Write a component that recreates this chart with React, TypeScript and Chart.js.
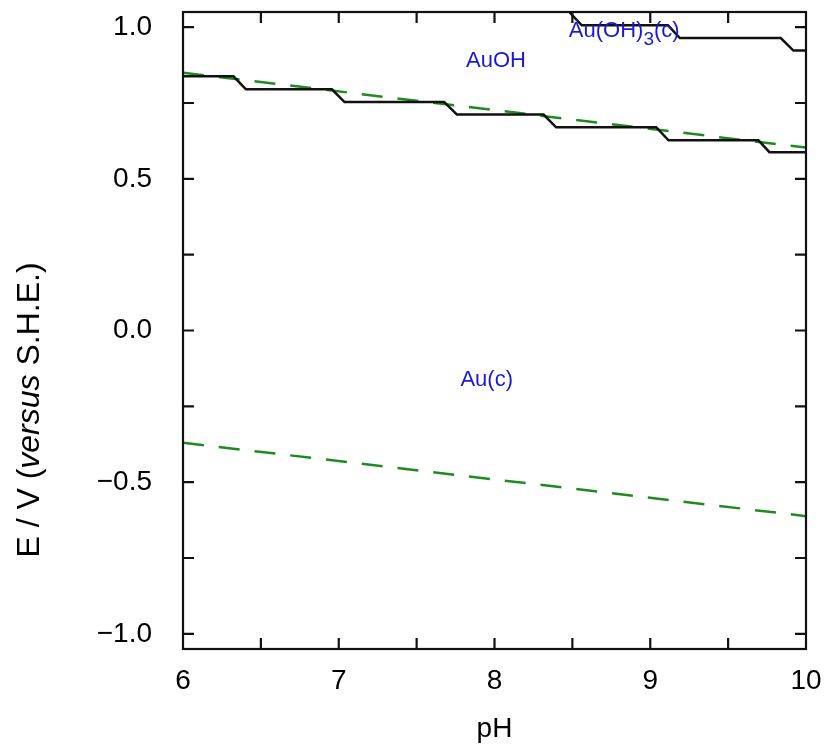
import React, { useEffect, useRef } from 'react';
import { Chart, registerables } from 'chart.js';

Chart.register(...registerables);

// ---- data ----
const phMin = 6;
const phMax = 10;
const eMin = -1.05;
const eMax = 1.05;

const xTickValues = [6, 7, 8, 9, 10];
const xMinorTickValues = [6.5, 7, 7.5, 8, 8.5, 9, 9.5];
const yTickValues = [-1.0, -0.5, 0.0, 0.5, 1.0];
const yMinorTickValues = [-1.0, -0.75, -0.5, -0.25, 0, 0.25, 0.5, 0.75, 1.0];

// Au(c) / AuOH boundary (staircase)
const auAuohPH = [6, 6.324, 6.404, 6.956, 7.037, 7.677, 7.759, 8.315, 8.396, 9.038, 9.117, 9.695, 9.765, 10];
const auAuohE = [0.838, 0.838, 0.795, 0.795, 0.753, 0.753, 0.712, 0.712, 0.670, 0.670, 0.627, 0.627, 0.588, 0.588];

// AuOH / Au(OH)3(c) boundary (staircase)
const auohAuoh3PH = [8.48, 8.56, 9.114, 9.19, 9.838, 9.919, 10];
const auohAuoh3E = [1.05, 1.006, 1.006, 0.964, 0.964, 0.923, 0.923];

// water stability lines
const o2LinePH = [6, 10];
const o2LineE = [0.85, 0.603];
const h2LinePH = [6, 10];
const h2LineE = [-0.37, -0.612];

// region labels (data coordinates)
const regionLabels = ['AuOH', 'Au(c)'];
const regionLabelPH = [8.01, 7.95];
const regionLabelE = [0.89, -0.163];
const auoh3LabelPH = 8.833;
const auoh3LabelE = 0.967;

const FONT = '"Liberation Sans", Arial, Helvetica, sans-serif';
const BLUE = '#1a1ad2';
const GREEN = '#1f8a1f';

function pts(xs: number[], ys: number[]) {
  return xs.map((x, i) => ({ x, y: ys[i] }));
}

const decorPlugin = {
  id: 'decor',
  afterDatasetsDraw(chart: any) {
    const ctx = chart.ctx as CanvasRenderingContext2D;
    const { left, right, top, bottom } = chart.chartArea;
    const xs = chart.scales.x;
    const ys = chart.scales.y;
    ctx.save();
    // frame
    ctx.strokeStyle = '#111';
    ctx.lineWidth = 2.2;
    ctx.strokeRect(left, top, right - left, bottom - top);
    // inward ticks
    const tl = 11;
    ctx.beginPath();
    xMinorTickValues.forEach((v) => {
      const px = xs.getPixelForValue(v);
      ctx.moveTo(px, bottom);
      ctx.lineTo(px, bottom - tl);
      ctx.moveTo(px, top);
      ctx.lineTo(px, top + tl);
    });
    yMinorTickValues.forEach((v) => {
      const py = ys.getPixelForValue(v);
      ctx.moveTo(left, py);
      ctx.lineTo(left + tl, py);
      ctx.moveTo(right, py);
      ctx.lineTo(right - tl, py);
    });
    ctx.stroke();

    // region labels
    ctx.fillStyle = BLUE;
    ctx.textAlign = 'center';
    ctx.textBaseline = 'middle';
    ctx.font = `22px ${FONT}`;
    regionLabels.forEach((t, i) => {
      ctx.fillText(t, xs.getPixelForValue(regionLabelPH[i]), ys.getPixelForValue(regionLabelE[i]));
    });
    // Au(OH)3(c) with subscript
    ctx.textAlign = 'left';
    ctx.textBaseline = 'alphabetic';
    const big = `22px ${FONT}`;
    const small = `19px ${FONT}`;
    ctx.font = big;
    const w1 = ctx.measureText('Au(OH)').width;
    const w3 = ctx.measureText('(c)').width;
    ctx.font = small;
    const w2 = ctx.measureText('3').width;
    const total = w1 + w2 + w3;
    const bx = xs.getPixelForValue(auoh3LabelPH) - total / 2;
    const by = ys.getPixelForValue(auoh3LabelE);
    ctx.font = big;
    ctx.fillText('Au(OH)', bx, by);
    ctx.font = small;
    ctx.fillText('3', bx + w1, by + 8);
    ctx.font = big;
    ctx.fillText('(c)', bx + w1 + w2, by);

    // axis titles
    ctx.fillStyle = '#000';
    ctx.font = `28px ${FONT}`;
    ctx.textAlign = 'center';
    ctx.textBaseline = 'alphabetic';
    ctx.fillText('pH', (left + right) / 2, 737);

    ctx.translate(30, 410);
    ctx.rotate(-Math.PI / 2);
    ctx.textBaseline = 'middle';
    ctx.textAlign = 'left';
    const normal = `32px ${FONT}`;
    const italic = `italic 32px ${FONT}`;
    const parts: [string, string][] = [
      ['E / V (', normal],
      ['versus', italic],
      [' S.H.E.)', normal],
    ];
    let tw = 0;
    parts.forEach(([t, f]) => {
      ctx.font = f;
      tw += ctx.measureText(t).width;
    });
    let cx = -tw / 2;
    parts.forEach(([t, f]) => {
      ctx.font = f;
      ctx.fillText(t, cx, 0);
      cx += ctx.measureText(t).width;
    });
    ctx.restore();
  },
};

export default function App() {
  const ref = useRef<HTMLCanvasElement | null>(null);
  useEffect(() => {
    if (!ref.current) return;
    const chart = new Chart(ref.current, {
      type: 'line',
      data: {
        datasets: [
          {
            data: pts(auAuohPH, auAuohE),
            borderColor: '#111',
            borderWidth: 2.5,
            pointRadius: 0,
            tension: 0,
          },
          {
            data: pts(auohAuoh3PH, auohAuoh3E),
            borderColor: '#111',
            borderWidth: 2.5,
            pointRadius: 0,
            tension: 0,
          },
          {
            data: pts(o2LinePH, o2LineE),
            borderColor: GREEN,
            borderWidth: 2.5,
            borderDash: [21, 15],
            pointRadius: 0,
            tension: 0,
          },
          {
            data: pts(h2LinePH, h2LineE),
            borderColor: GREEN,
            borderWidth: 2.5,
            borderDash: [21, 15],
            pointRadius: 0,
            tension: 0,
          },
        ],
      },
      options: {
        responsive: false,
        animation: false,
        layout: { padding: { top: 12, right: 22, left: 0, bottom: 0 } },
        plugins: { legend: { display: false }, tooltip: { enabled: false } },
        scales: {
          x: {
            type: 'linear',
            min: phMin,
            max: phMax,
            grid: { display: false, drawTicks: false },
            border: { display: false },
            afterBuildTicks: (s: any) => {
              s.ticks = xTickValues.map((v) => ({ value: v }));
            },
            ticks: {
              padding: 15,
              color: '#000',
              maxRotation: 0,
              autoSkip: false,
              font: { size: 28, family: FONT },
              callback: (v: any) => String(v),
            },
            afterFit: (s: any) => {
              s.height = 102;
              s.paddingLeft = 0;
              s.paddingRight = 0;
            },
          },
          y: {
            type: 'linear',
            min: eMin,
            max: eMax,
            grid: { display: false, drawTicks: false },
            border: { display: false },
            afterBuildTicks: (s: any) => {
              s.ticks = yTickValues.map((v) => ({ value: v }));
            },
            ticks: {
              padding: 31,
              color: '#000',
              autoSkip: false,
              font: { size: 28, family: FONT },
              callback: (v: any) => {
                const n = Number(v);
                const s = Math.abs(n).toFixed(1);
                return n < -1e-9 ? '\u2212' + s : s;
              },
            },
            afterFit: (s: any) => {
              s.width = 183;
              s.paddingTop = 0;
              s.paddingBottom = 0;
            },
          },
        },
      },
      plugins: [decorPlugin],
    } as any);
    return () => chart.destroy();
  }, []);
  return (
    <div style={{ position: 'fixed', left: 0, top: 0, width: 828, height: 751, background: '#fff' }}>
      <canvas ref={ref} width={828} height={751} style={{ display: 'block' }} />
    </div>
  );
}
